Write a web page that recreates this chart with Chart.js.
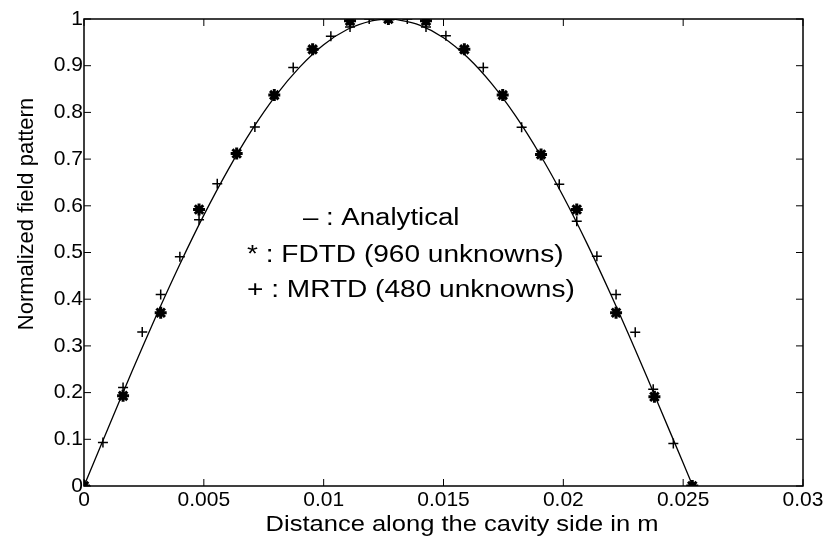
<html>
  <head>
    <script src="https://cdn.jsdelivr.net/npm/chart.js"></script>
    <style>
      body { margin: 0; background: #fff; }
      #chart_div { width: 833px; height: 537px; }
    </style>
  </head>
  <body>
    <div id="chart_div"><canvas id="fieldChart" width="833" height="537"></canvas></div>

    <script type="text/javascript">
      // analytical curve
      var analyticX = [0, 0.001, 0.002, 0.003, 0.004, 0.005, 0.006, 0.007, 0.008, 0.009, 0.010, 0.011, 0.012, 0.0127,
                       0.013, 0.014, 0.015, 0.016, 0.017, 0.018, 0.019, 0.020, 0.021, 0.022, 0.023, 0.024, 0.025, 0.0254];
      var analyticY = [0, 0.123, 0.245, 0.363, 0.475, 0.580, 0.676, 0.762, 0.836, 0.897, 0.945, 0.978, 0.996, 1.0,
                       0.999, 0.987, 0.960, 0.918, 0.862, 0.793, 0.712, 0.620, 0.518, 0.408, 0.292, 0.171, 0.049, 0];

      // FDTD (960 unknowns), asterisks
      var fdtdX = [0, 0.00163, 0.0032, 0.0048, 0.00637, 0.00794, 0.00954, 0.0111, 0.0127, 0.01427,
                   0.01587, 0.01747, 0.01907, 0.02056, 0.0222, 0.0238, 0.02538];
      var fdtdY = [0, 0.193, 0.371, 0.592, 0.712, 0.837, 0.935, 0.996, 1.0, 0.996,
                   0.935, 0.837, 0.71, 0.592, 0.371, 0.191, 0];

      // MRTD (480 unknowns), plus signs
      var mrtdX = [0, 0.00079, 0.00163, 0.00243, 0.0032, 0.0040, 0.0048, 0.00556, 0.00637, 0.00713, 0.00794,
                   0.00873, 0.00954, 0.0103, 0.0111, 0.0119, 0.0127, 0.01349, 0.01427, 0.0151, 0.01587,
                   0.01666, 0.01747, 0.01826, 0.01907, 0.01983, 0.02056, 0.0214, 0.0222, 0.0230, 0.02375,
                   0.02459, 0.02538];
      var mrtdY = [0, 0.093, 0.211, 0.330, 0.41, 0.491, 0.570, 0.647, 0.712, 0.769, 0.837,
                   0.896, 0.935, 0.963, 0.983, 1.0, 1.0, 1.0, 0.983, 0.964, 0.935,
                   0.896, 0.837, 0.768, 0.71, 0.646, 0.567, 0.492, 0.41, 0.329, 0.207,
                   0.091, 0];

      var xTicks = [0, 0.005, 0.01, 0.015, 0.02, 0.025, 0.03];
      var xTickLabels = ['0', '0.005', '0.01', '0.015', '0.02', '0.025', '0.03'];
      var yTicks = [0, 0.1, 0.2, 0.3, 0.4, 0.5, 0.6, 0.7, 0.8, 0.9, 1];
      var yTickLabels = ['0', '0.1', '0.2', '0.3', '0.4', '0.5', '0.6', '0.7', '0.8', '0.9', '1'];

      var legendLines = ['\u2013 : Analytical', '* : FDTD (960 unknowns)', '+ : MRTD (480 unknowns)'];

      function pairs(xs, ys) {
        return xs.map(function (x, i) { return { x: x, y: ys[i] }; });
      }

      // text squeezed wide like the scanned original
      function wideText(ctx, str, x, y, sx) {
        ctx.save();
        ctx.translate(x, y);
        ctx.scale(sx, 1);
        ctx.fillText(str, 0, 0);
        ctx.restore();
      }

      // box, inward ticks, axis titles and the text key
      var matlabFrame = {
        id: 'matlabFrame',
        afterDraw: function (chart) {
          var ctx = chart.ctx;
          var a = chart.chartArea;
          var xs = chart.scales.x, ys = chart.scales.y;
          var len = 7;
          ctx.save();
          ctx.strokeStyle = '#000';
          ctx.lineWidth = 1.5;
          ctx.strokeRect(a.left, a.top, a.right - a.left, a.bottom - a.top);
          ctx.lineWidth = 1;
          ctx.beginPath();
          xTicks.forEach(function (v) {
            var px = xs.getPixelForValue(v);
            ctx.moveTo(px, a.bottom); ctx.lineTo(px, a.bottom - len);
            ctx.moveTo(px, a.top); ctx.lineTo(px, a.top + len);
          });
          yTicks.forEach(function (v) {
            var py = ys.getPixelForValue(v);
            ctx.moveTo(a.left, py); ctx.lineTo(a.left + len, py);
            ctx.moveTo(a.right, py); ctx.lineTo(a.right - len, py);
          });
          ctx.stroke();

          ctx.fillStyle = '#000';
          ctx.textBaseline = 'alphabetic';

          // x title
          ctx.font = '22px "Liberation Sans", Arial, sans-serif';
          ctx.textAlign = 'center';
          wideText(ctx, 'Distance along the cavity side in m', 462, 531, 1.16);

          // y title
          ctx.save();
          ctx.translate(33, 214);
          ctx.rotate(-Math.PI / 2);
          ctx.fillText('Normalized field pattern', 0, 0);
          ctx.restore();

          // key text inside the plot
          ctx.font = '23px "Liberation Sans", Arial, sans-serif';
          ctx.textAlign = 'left';
          wideText(ctx, legendLines[0], 303, 225, 1.2);
          wideText(ctx, legendLines[1], 247, 262, 1.22);
          wideText(ctx, legendLines[2], 247, 297, 1.22);
          ctx.restore();
        }
      };

      function drawChart() {
        const ctx = document.getElementById('fieldChart');
        var tickFont = { family: '"Liberation Sans", Arial, sans-serif', size: 21 };

        new Chart(ctx, {
          type: 'scatter',
          data: {
            datasets: [{
              label: 'Analytical',
              data: pairs(analyticX, analyticY),
              showLine: true,
              borderColor: '#000',
              borderWidth: 1.3,
              tension: 0.3,
              pointRadius: 0
            }, {
              label: 'FDTD (960 unknowns)',
              data: pairs(fdtdX, fdtdY),
              showLine: false,
              pointStyle: 'star',
              pointRadius: 6,
              borderColor: '#000',
              backgroundColor: '#000',
              pointBorderWidth: 3
            }, {
              label: 'MRTD (480 unknowns)',
              data: pairs(mrtdX, mrtdY),
              showLine: false,
              pointStyle: 'cross',
              pointRadius: 5,
              borderColor: '#000',
              pointBorderWidth: 1.5
            }]
          },
          options: {
            responsive: false,
            animation: false,
            devicePixelRatio: 1,
            layout: { padding: { top: 19, right: 30, left: 0, bottom: 0 } },
            plugins: {
              legend: { display: false },
              tooltip: { enabled: false }
            },
            scales: {
              x: {
                type: 'linear',
                min: 0,
                max: 0.03,
                afterBuildTicks: function (s) { s.ticks = xTicks.map(function (v) { return { value: v }; }); },
                afterFit: function (s) { s.height = 51; },
                grid: { display: false, drawTicks: false },
                border: { display: false },
                ticks: {
                  color: '#000',
                  font: tickFont,
                  padding: 2,
                  maxRotation: 0,
                  autoSkip: false,
                  callback: function (v, i) { return xTickLabels[i]; }
                }
              },
              y: {
                type: 'linear',
                min: 0,
                max: 1,
                afterBuildTicks: function (s) { s.ticks = yTicks.map(function (v) { return { value: v }; }); },
                afterFit: function (s) { s.width = 84; },
                grid: { display: false, drawTicks: false },
                border: { display: false },
                ticks: {
                  color: '#000',
                  font: tickFont,
                  padding: 1,
                  autoSkip: false,
                  callback: function (v, i) { return yTickLabels[i]; }
                }
              }
            }
          },
          plugins: [matlabFrame]
        });
      }

      drawChart();
    </script>
  </body>
</html>
